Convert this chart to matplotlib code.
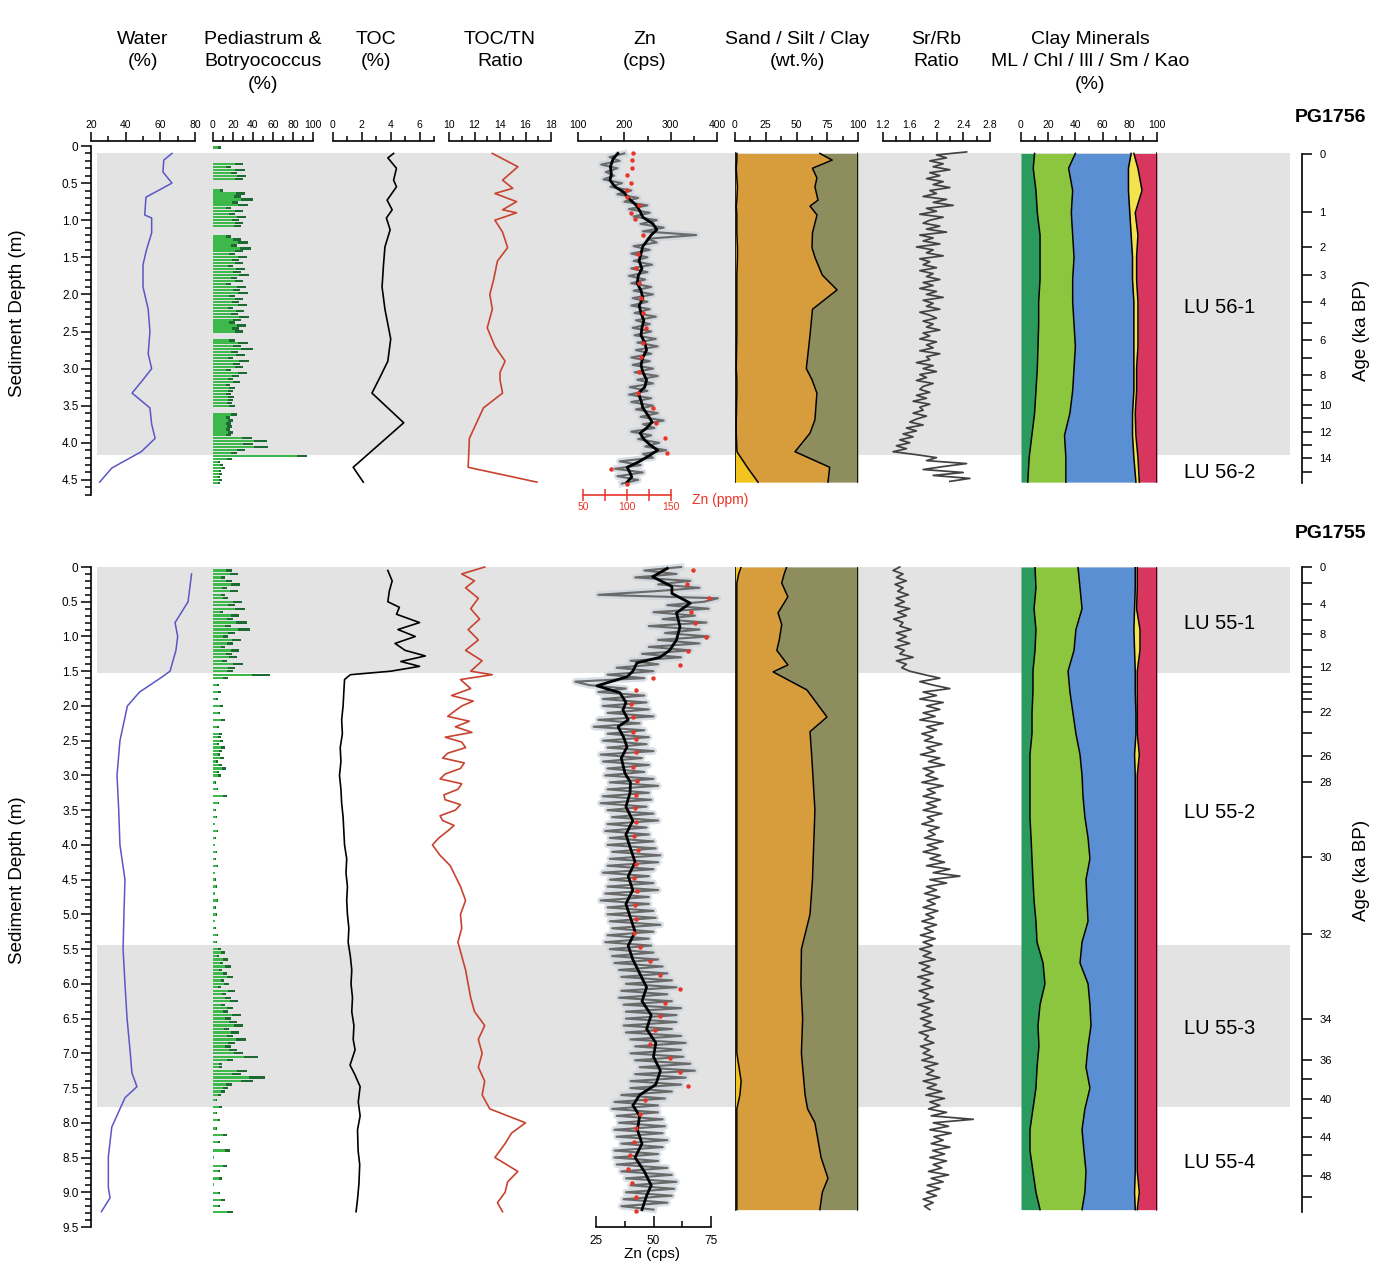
import numpy as np
import matplotlib.pyplot as plt

plt.rcParams['font.family'] = ['Liberation Sans', 'DejaVu Sans']

# ---------------- PG1756 (upper core) ----------------
water56_depth = [0.10, 0.19, 0.35, 0.50, 0.69, 0.93, 0.97, 1.17, 1.40, 1.60, 1.90, 2.20, 2.50, 2.80,
                 3.00, 3.15, 3.33, 3.53, 3.75, 3.94, 4.12, 4.34, 4.53]
water56 = [66.7, 62, 61.5, 66.7, 51.7, 51, 55, 55, 52, 50, 50, 53, 54, 53, 55, 50, 43.7, 54, 55, 57, 49, 32, 25]

ped56_depth = [0.02,
               0.24, 0.28, 0.32, 0.36, 0.40, 0.44,
               0.60, 0.64, 0.68, 0.72, 0.76, 0.80, 0.84, 0.88, 0.92, 0.96, 1.00, 1.04, 1.08,
               1.22, 1.26, 1.30, 1.34, 1.38, 1.42, 1.46, 1.50, 1.54, 1.58, 1.62, 1.66, 1.70, 1.74,
               1.78, 1.82, 1.86, 1.90, 1.94, 1.98, 2.02, 2.06, 2.10, 2.14, 2.18, 2.22, 2.26, 2.30,
               2.34, 2.38, 2.42, 2.46, 2.50,
               2.62, 2.66, 2.70, 2.74, 2.78, 2.82, 2.86, 2.90, 2.94, 2.98, 3.02, 3.06, 3.10, 3.14,
               3.18, 3.22, 3.26, 3.30, 3.34, 3.38, 3.42, 3.46, 3.50,
               3.62, 3.66, 3.70, 3.74, 3.78, 3.82, 3.86, 3.90, 3.94, 3.98, 4.02, 4.06, 4.10, 4.14,
               4.18, 4.22, 4.26, 4.30, 4.34, 4.38, 4.42, 4.46, 4.50, 4.54]
ped56 = [5,
         22, 13, 22, 18, 24, 22,
         7, 23, 21, 28, 19, 25, 13, 22, 16, 24, 19, 22, 21,
         13, 20, 25, 18, 27, 22, 16, 25, 19, 22, 15, 23, 20, 26, 18, 22, 13, 24, 20, 25,
         16, 22, 19, 25, 15, 23, 18, 26, 20, 16, 24, 19, 22,
         16, 25, 20, 28, 18, 23, 15, 26, 20, 22, 13, 25, 19, 15, 20, 13, 16, 15, 13, 15, 15, 14, 16,
         18, 13, 15, 13, 14, 13, 15, 13, 29, 41, 30, 41, 24, 18, 84, 14, 5, 7, 9, 6, 6, 5, 6, 5]
bot56 = [3,
         8, 5, 10, 6, 9, 8,
         3, 9, 7, 12, 6, 10, 5, 8, 6, 9, 7, 8, 7,
         5, 8, 10, 6, 11, 8, 6, 9, 7, 8, 5, 9, 8, 10, 6, 8, 5, 9, 7, 10,
         6, 8, 7, 9, 5, 8, 7, 10, 8, 6, 9, 7, 8,
         6, 10, 8, 12, 7, 9, 5, 10, 7, 8, 5, 9, 7, 5, 7, 4, 6, 5, 5, 6, 5, 5, 6,
         6, 4, 5, 5, 5, 4, 5, 5, 10, 13, 10, 14, 8, 6, 10, 5, 2, 3, 3, 2, 3, 2, 3, 2]

toc56_depth = [0.10, 0.16, 0.30, 0.46, 0.55, 0.73, 0.86, 0.97, 1.13, 1.36, 1.60, 1.90, 2.20, 2.60,
               2.90, 3.10, 3.33, 3.73, 4.33, 4.53]
toc56 = [4.2, 3.8, 4.4, 4.2, 4.4, 3.75, 4.1, 3.7, 3.96, 3.6, 3.5, 3.4, 3.6, 4.0, 3.8, 3.3, 2.7, 4.9, 1.4, 2.1]

tn56_depth = [0.10, 0.28, 0.46, 0.57, 0.64, 0.75, 0.86, 0.90, 1.00, 1.16, 1.37, 1.55, 1.80, 2.00,
              2.20, 2.45, 2.70, 2.90, 3.05, 3.15, 3.33, 3.53, 3.94, 4.33, 4.53]
tn56 = [13.4, 15.4, 14.2, 15.0, 13.6, 15.3, 14.2, 15.3, 13.6, 14.2, 14.6, 13.8, 13.5, 13.2,
        13.4, 13.0, 13.6, 14.4, 14.0, 14.0, 14.2, 12.7, 11.6, 11.5, 16.9]

# XRF scan Zn (cps) on a 5 cm grid from 0.10 m
zn56_raw = [200, 168, 190, 150, 185, 160, 178, 155, 195, 170,
            215, 185, 230, 200, 250, 210, 255, 220, 270, 235,
            285, 240, 355, 250, 270, 220, 255, 215, 250, 220,
            260, 215, 250, 210, 245, 215, 258, 220, 262, 218,
            250, 215, 255, 222, 268, 225, 255, 218, 258, 222,
            268, 228, 272, 225, 258, 215, 255, 218, 262, 222,
            272, 228, 262, 212, 250, 210, 258, 215, 262, 225,
            272, 235, 285, 240, 265, 215, 258, 230, 275, 245,
            290, 240, 262, 190, 235, 180, 240, 185, 230, 195]
zn56_smooth_depth = [0.10, 0.17, 0.28, 0.38, 0.46, 0.55, 0.62, 0.72, 0.80, 0.88, 0.96, 1.05, 1.13,
                     1.20, 1.27, 1.35, 1.45, 1.55, 1.65, 1.75, 1.85, 1.95, 2.05, 2.15, 2.25, 2.35,
                     2.45, 2.55, 2.65, 2.75, 2.85, 2.95, 3.05, 3.15, 3.25, 3.33, 3.43, 3.53, 3.62,
                     3.72, 3.80, 3.87, 3.95, 4.03, 4.10, 4.18, 4.26, 4.33, 4.40, 4.46, 4.53]
zn56_smooth = [186, 176, 170, 172, 169, 180, 198, 212, 226, 234, 240, 262, 270, 258, 250, 240, 236,
               232, 238, 230, 228, 236, 240, 232, 236, 242, 238, 236, 244, 248, 240, 236, 240, 248,
               244, 230, 236, 240, 250, 260, 248, 234, 242, 256, 272, 252, 230, 206, 212, 216, 206]
znppm56_depth = [0.10, 0.19, 0.30, 0.39, 0.50, 0.59, 0.69, 0.80, 0.90, 0.98, 1.20, 1.45, 1.65, 1.85,
                 2.05, 2.25, 2.45, 2.65, 2.85, 3.05, 3.33, 3.53, 3.73, 3.94, 4.14, 4.35, 4.55]
znppm56 = [107, 106, 106, 100, 104, 100, 100, 114, 104, 109, 118, 112, 110, 114, 116, 118, 122, 118,
           116, 114, 112, 130, 133, 143, 145, 82, 100]

ssc56_depth = [0.10, 0.19, 0.30, 0.43, 0.55, 0.73, 0.81, 0.93, 1.17, 1.37, 1.50, 1.74, 1.94, 2.07,
               2.20, 2.55, 3.00, 3.15, 3.33, 3.69, 3.87, 4.12, 4.33, 4.53]
sand56 = [1.5, 1.5, 1.0, 1.5, 2.0, 1.5, 1.0, 1.5, 1.5, 2.0, 2.0, 1.5, 1.5, 1.5, 1.5, 1.5, 1.0, 1.5,
          1.5, 1.0, 1.0, 1.6, 10, 18.7]
silt56 = [67.5, 77.5, 62, 65.1, 63, 66, 60, 65.2, 61.5, 60.6, 63, 69.5, 81.5, 71.5, 61.5, 59.5, 57,
          61.1, 65.1, 64, 60, 47.2, 67, 56.9]
clay56 = [31, 21, 37, 33.4, 35, 32.5, 39, 33.3, 37, 37.4, 35, 29, 17, 27, 37, 39, 42, 37.4, 33.4,
          35, 39, 51.2, 23, 24.4]

# XRF Sr/Rb on a 4 cm grid from 0.08 m
srrb56 = [2.45, 2.0, 2.15, 1.9, 2.1, 1.95, 2.2, 1.9, 2.05, 1.85,
          2.1, 1.95, 2.2, 1.9, 2.0, 1.8, 2.15, 1.95, 2.25, 1.85,
          2.0, 1.75, 2.1, 1.9, 1.8, 2.05, 1.85, 2.15, 1.75, 1.95,
          1.8, 2.05, 1.7, 1.95, 1.85, 2.1, 1.75, 1.9, 1.8, 2.0,
          1.75, 1.95, 1.85, 2.05, 1.8, 1.95, 1.75, 2.0, 1.85, 2.1,
          1.8, 1.95, 1.85, 2.05, 1.75, 1.9, 2.0, 1.8, 1.95, 1.85,
          2.05, 1.8, 1.9, 1.75, 2.0, 1.85, 1.95, 1.75, 2.05, 1.85,
          1.9, 1.7, 1.95, 1.8, 2.0, 1.75, 1.85, 1.7, 1.95, 1.8,
          1.75, 1.9, 1.7, 1.85, 1.65, 1.9, 1.75, 1.8, 1.65, 1.85,
          1.7, 1.6, 1.8, 1.55, 1.7, 1.5, 1.65, 1.45, 1.6, 1.4,
          1.55, 1.35, 1.7, 2.0, 1.85, 2.45, 2.1, 1.8, 2.4, 1.95, 2.5, 2.2]

cm56_depth = [0.10, 0.30, 0.60, 0.90, 1.20, 1.50, 1.80, 2.10, 2.40, 2.70, 3.00, 3.30, 3.60, 3.90, 4.20, 4.53]
ml56 = [10, 9, 11, 12, 14, 14, 14, 13, 13, 12.5, 12, 11, 10, 8, 6, 5]
chl56 = [30, 26, 27, 25, 24, 25, 24, 25, 26, 27.5, 27, 27, 26, 24, 27, 28]
ill56 = [41, 44, 41, 43, 43, 43, 44, 45, 44, 43, 44, 45, 46, 50, 50, 51.5]
sm56 = [2, 7, 10, 4, 5, 3, 3, 3, 3, 3, 2, 2, 2, 2.5, 3, 2.5]
kao56 = [17, 14, 11, 16, 14, 15, 15, 14, 14, 14, 15, 15, 16, 15.5, 14, 13]

age56 = [0, 1, 2, 3, 4, 5, 6, 7, 8, 9, 10, 11, 12, 13, 14, 15]
age56_depth = [0.108, 0.889, 1.361, 1.739, 2.102, 2.385, 2.615, 2.857, 3.086, 3.288, 3.491, 3.666,
               3.854, 4.030, 4.205, 4.394]
age56_labeled = [0, 1, 2, 3, 4, 6, 8, 10, 12, 14]

# ---------------- PG1755 (lower core) ----------------
water55_depth = [0.1, 0.5, 0.8, 1.0, 1.2, 1.5, 1.6, 1.8, 2.0, 2.5, 3.0, 3.5, 4.0, 4.5, 5.0, 5.5, 6.0,
                 6.5, 6.95, 7.28, 7.48, 7.64, 8.06, 8.49, 8.93, 9.08, 9.28]
water55 = [78, 76, 68.5, 70, 69, 65.6, 60, 48, 41, 36.7, 35, 36, 36.7, 39.6, 39, 38.5, 39.6, 40.8,
           42.5, 43.6, 46.5, 39.6, 32, 30, 30, 31, 26]

ped55_depth = [0.05, 0.10, 0.15, 0.20, 0.25, 0.30, 0.35, 0.40, 0.45, 0.50, 0.55, 0.60, 0.65, 0.70,
               0.75, 0.80, 0.85, 0.90, 0.95, 1.00, 1.05, 1.10, 1.15, 1.20, 1.25, 1.30, 1.35, 1.40,
               1.45, 1.50, 1.55, 1.60,
               1.70, 1.80, 1.90, 2.00, 2.10, 2.20, 2.30, 2.40,
               2.45, 2.50, 2.55, 2.60, 2.65, 2.70, 2.75, 2.80, 2.85, 2.90, 2.95, 3.00,
               3.10, 3.20, 3.30, 3.40, 3.50, 3.60, 3.70, 3.80, 3.90, 4.00, 4.10, 4.20, 4.30, 4.40,
               4.50, 4.60, 4.70, 4.80, 4.90, 5.00, 5.10, 5.20, 5.30, 5.40,
               5.50, 5.55, 5.60, 5.65, 5.70, 5.75, 5.80, 5.85, 5.90, 5.95, 6.00, 6.05, 6.10, 6.15,
               6.20, 6.25, 6.30, 6.35, 6.40, 6.45, 6.50, 6.55, 6.60, 6.65, 6.70, 6.75, 6.80, 6.85,
               6.90, 6.95, 7.00, 7.05, 7.10, 7.15, 7.20, 7.25, 7.30, 7.35, 7.40, 7.45, 7.50, 7.55, 7.60,
               7.67, 7.77, 7.86, 7.96, 8.08, 8.18, 8.28, 8.40, 8.50, 8.62, 8.69, 8.80, 8.89, 9.01,
               9.11, 9.20, 9.28]
ped55 = [13, 17, 8, 13, 18, 9, 17, 8, 10, 20, 15, 22, 7, 18, 14, 23, 12, 25, 15, 10, 19, 14, 8, 18,
         13, 16, 9, 20, 15, 14, 39, 10,
         4, 5, 3, 7, 5, 8, 4, 6,
         5, 7, 4, 8, 6, 5, 7, 3, 6, 9, 4, 5,
         2, 4, 10, 5, 2, 3, 1.5, 4, 2, 1.5, 3, 2, 4, 1.5, 2, 3, 1.5, 4, 2, 3, 1.5, 2, 4, 3,
         5, 8, 4, 10, 7, 12, 6, 10, 14, 8, 11, 5, 15, 9, 12, 17, 8, 14, 10, 19, 12, 16, 21, 11,
         18, 14, 23, 15, 12, 16, 21, 31, 14, 6, 6, 24, 19, 36, 28, 13, 10, 8, 5,
         3, 6, 3, 5, 3, 10, 5, 12, 0.5, 10, 5, 6, 0.5, 5, 8, 5, 14]
bot55 = [6, 8, 4, 6, 9, 5, 8, 4, 5, 9, 7, 10, 3, 8, 6, 11, 6, 12, 7, 5, 9, 6, 4, 8, 6, 8, 5, 10, 7,
         6, 18, 5,
         2, 3, 2, 3, 2, 4, 2, 3,
         3, 3, 2, 4, 3, 2, 4, 2, 3, 4, 2, 3,
         1, 1, 4, 1, 1, 1, 0.5, 1, 1, 0.5, 1, 1, 1, 0.5, 1, 1, 0.5, 1, 1, 1, 0.5, 1, 1, 1,
         3, 4, 2, 5, 3, 6, 3, 4, 6, 3, 5, 3, 7, 4, 6, 8, 4, 6, 5, 9, 6, 8, 9, 5,
         8, 6, 10, 7, 6, 8, 9, 14, 6, 3, 3, 10, 9, 16, 12, 6, 5, 4, 3,
         1, 3, 1, 2, 1, 4, 2, 5, 0.5, 4, 2, 3, 0.5, 2, 4, 2, 6]

toc55_depth = [0.05, 0.2, 0.35, 0.5, 0.58, 0.68, 0.8, 0.9, 1.0, 1.1, 1.2, 1.28, 1.36, 1.43, 1.5,
               1.55, 1.62, 1.8, 2.0, 2.2, 2.4, 2.6, 2.8, 3.0, 3.2, 3.4, 3.6, 3.8, 4.0, 4.2, 4.4,
               4.6, 4.8, 5.0, 5.2, 5.4, 5.6, 5.8, 6.0, 6.2, 6.4, 6.6, 6.8, 6.95, 7.17, 7.3, 7.48,
               7.7, 7.9, 8.1, 8.4, 8.6, 8.87, 9.1, 9.28]
toc55 = [3.8, 4.1, 3.9, 3.8, 4.6, 4.4, 6.0, 4.5, 5.7, 4.3, 5.0, 6.4, 4.7, 6.0, 4.0, 1.2, 0.8, 0.75,
         0.7, 0.6, 0.65, 0.5, 0.55, 0.45, 0.55, 0.6, 0.7, 0.75, 0.8, 0.95, 0.9, 1.0, 0.95, 1.0, 1.1,
         1.05, 1.2, 1.3, 1.25, 1.35, 1.3, 1.45, 1.4, 1.53, 1.18, 1.5, 1.88, 1.75, 1.88, 1.7, 1.74,
         1.85, 1.8, 1.7, 1.6]

tn55_depth = [0.0, 0.1, 0.2, 0.3, 0.45, 0.6, 0.75, 0.9, 1.05, 1.2, 1.35, 1.5, 1.55, 1.62, 1.75,
              1.85, 1.93, 2.0, 2.08, 2.15, 2.22, 2.3, 2.38, 2.45, 2.52, 2.6, 2.68, 2.75, 2.82, 2.9,
              2.98, 3.05, 3.12, 3.2, 3.28, 3.35, 3.42, 3.5, 3.58, 3.65, 3.72, 3.8, 3.9, 4.0,
              4.15, 4.3, 4.45, 4.6, 4.8, 5.0, 5.2, 5.4, 5.6, 5.8, 6.0, 6.2, 6.4, 6.6, 6.8, 7.0,
              7.2, 7.4, 7.6, 7.8, 8.0, 8.15, 8.3, 8.5, 8.7, 8.85, 9.0, 9.15, 9.28]
tn55 = [12.8, 11.0, 12.0, 11.3, 12.3, 11.7, 12.4, 11.5, 12.3, 11.3, 12.6, 11.7, 13.4, 10.9, 11.7,
        10.2, 11.9, 11.0, 10.4, 9.9, 11.6, 10.5, 11.8, 9.7, 11.0, 11.3, 9.9, 9.5, 11.2, 10.9,
        9.7, 9.3, 11.0, 10.7, 9.6, 9.7, 10.9, 10.5, 9.3, 9.5, 10.4, 9.9, 9.2, 8.7,
        9.3, 10.1, 10.5, 10.9, 11.3, 10.9, 11.0, 10.7, 11.0, 11.3, 11.5, 11.7, 12.0, 12.8, 12.3,
        12.6, 12.3, 12.8, 12.6, 13.2, 16.0, 14.9, 14.4, 13.6, 15.4, 14.6, 14.4, 13.8, 14.2]

# XRF scan Zn (cps) on a 5 cm grid from 0.00 m
zn55_raw = [62, 46, 60, 42, 66, 52, 70, 50, 26, 78,
            72, 56, 74, 50, 68, 54, 73, 48, 70, 55,
            74, 52, 70, 48, 66, 45, 62, 40, 52, 34,
            50, 30, 46, 16, 22, 38, 26, 46, 28, 47,
            28, 48, 30, 50, 26, 44, 24, 46, 30, 48,
            28, 47, 30, 50, 27, 45, 28, 48, 30, 46,
            29, 50, 31, 52, 30, 48, 28, 49, 27, 47,
            30, 50, 32, 52, 30, 47, 29, 48, 31, 50,
            30, 51, 32, 53, 31, 52, 30, 50, 28, 48,
            31, 50, 30, 52, 29, 48, 27, 48, 30, 50,
            30, 51, 31, 53, 32, 50, 30, 48, 29, 49,
            31, 50, 32, 52, 33, 54, 35, 56, 36, 58,
            38, 60, 36, 56, 35, 58, 37, 62, 38, 60,
            38, 60, 37, 58, 38, 62, 40, 64, 42, 62,
            40, 63, 42, 66, 44, 68, 42, 64, 40, 62,
            40, 58, 36, 55, 33, 52, 32, 52, 34, 54,
            35, 55, 33, 54, 34, 56, 36, 54, 33, 52,
            33, 52, 34, 56, 36, 58, 38, 60, 40, 59,
            38, 58, 37, 56, 36, 50]
zn55_smooth_depth = [0.02, 0.14, 0.28, 0.38, 0.52, 0.66, 0.86, 1.05, 1.20, 1.30, 1.38, 1.50, 1.58,
                     1.71, 1.81, 1.95, 2.06, 2.20, 2.30, 2.45, 2.59, 2.75, 2.97, 3.10, 3.25, 3.45,
                     3.65, 3.85, 4.05, 4.25, 4.45, 4.65, 4.85, 5.05, 5.25, 5.45, 5.65, 5.85, 6.05,
                     6.25, 6.45, 6.65, 6.85, 7.05, 7.25, 7.45, 7.60, 7.75, 7.90, 8.10, 8.30, 8.50,
                     8.70, 8.90, 9.05, 9.25]
zn55_smooth = [56, 49.6, 58, 58, 66, 60, 61.5, 60, 57, 52.8, 42.8, 41, 38.5, 25.4, 35.4, 38, 36.7,
               39, 34.6, 37, 38.5, 36, 37.6, 40, 39.8, 38, 41, 38, 40, 42, 39, 41, 38, 40, 42, 39,
               41, 44, 47, 45, 49, 47, 51, 50, 53, 51, 44, 41, 44, 43, 45, 42, 46, 49, 47, 45]
znppm55_depth = [0.04, 0.245, 0.446, 0.648, 0.806, 1.008, 1.21, 1.41, 1.6, 1.77, 1.97, 2.16, 2.375,
                 2.48, 2.66, 2.88, 3.08, 3.28, 3.47, 3.67, 3.87, 4.07, 4.27, 4.47, 4.67, 4.87,
                 5.07, 5.27, 5.47, 5.67, 5.87, 6.07, 6.27, 6.47, 6.67, 6.87, 7.07, 7.27, 7.47,
                 7.67, 7.87, 8.07, 8.27, 8.47, 8.67, 8.87, 9.07, 9.27]
znppm55 = [175, 168, 193, 173, 177, 190, 169, 160, 130, 110, 105, 107, 107, 110, 110, 107, 111, 110,
           109, 110, 108, 113, 110, 108, 111, 109, 110, 108, 115, 126, 138, 160, 143, 138, 132,
           126, 149, 160, 169, 121, 115, 110, 108, 103, 101, 106, 110, 110]

ssc55_depth = [0.0, 0.1, 0.23, 0.43, 0.66, 0.83, 1.05, 1.2, 1.41, 1.51, 1.77, 2.16, 2.37, 2.78,
               3.2, 3.5, 4.0, 4.5, 5.0, 5.5, 6.0, 6.5, 7.0, 7.4, 7.6, 7.8, 8.0, 8.5, 8.8, 9.0, 9.25]
sand55 = [5, 3, 1.5, 1.5, 1.5, 1.5, 1.5, 1.5, 1.5, 1.5, 1.5, 1.5, 1.5, 1.5, 1.5, 1.5, 1.5, 1.5,
          1.5, 1.5, 1.5, 1.5, 1.5, 5, 4, 1.5, 1.5, 1.5, 1.5, 1.5, 1.5]
silt55 = [37, 37, 36.5, 41.5, 33.5, 36.5, 34.5, 32.5, 41.5, 29.5, 57, 73.3, 59.5, 61.1, 62.5, 63.5,
          62.5, 61.5, 59.5, 52.5, 52.1, 53.5, 52.5, 51, 53, 57.5, 63.5, 68.5, 74.1, 69.5, 67.5]
clay55 = [58, 60, 62, 57, 65, 62, 64, 66, 57, 69, 41.5, 25.2, 39, 37.4, 36, 35, 36, 37, 39, 46,
          46.4, 45, 46, 44, 43, 41, 35, 30, 24.4, 29, 31]

# XRF Sr/Rb on a 5 cm grid from 0.00 m
srrb55 = [1.45, 1.35, 1.5, 1.4, 1.55, 1.38, 1.5, 1.42, 1.58, 1.4,
          1.52, 1.38, 1.6, 1.42, 1.55, 1.36, 1.5, 1.45, 1.62, 1.4,
          1.55, 1.42, 1.6, 1.38, 1.52, 1.45, 1.65, 1.4, 1.55, 1.48,
          1.6, 1.82, 2.05, 1.75, 1.95, 2.2, 1.8, 2.0, 1.75, 2.1,
          1.85, 2.05, 1.8, 1.98, 1.75, 2.1, 1.85, 2.0, 1.78, 1.95,
          1.82, 2.08, 1.85, 1.98, 1.76, 2.05, 1.88, 2.12, 1.8, 1.96,
          1.84, 2.02, 1.78, 2.1, 1.86, 1.98, 1.8, 2.06, 1.85, 2.0,
          1.8, 2.08, 1.86, 1.96, 1.78, 2.04, 1.88, 1.98, 1.82, 2.1,
          1.86, 2.02, 1.8, 2.06, 1.9, 2.12, 1.85, 2.2, 1.95, 2.35,
          1.9, 2.15, 1.85, 2.0, 1.82, 2.05, 1.86, 1.98, 1.8, 2.02,
          1.84, 1.96, 1.78, 2.0, 1.82, 1.95, 1.76, 1.98, 1.8, 1.94,
          1.75, 1.92, 1.8, 1.98, 1.74, 1.9, 1.78, 1.95, 1.72, 1.9,
          1.78, 1.95, 1.74, 1.88, 1.8, 1.96, 1.72, 1.9, 1.78, 1.94,
          1.76, 1.92, 1.8, 1.98, 1.74, 1.88, 1.82, 1.96, 1.76, 1.9,
          1.8, 1.95, 1.78, 2.02, 1.82, 1.96, 1.85, 2.05, 1.8, 2.0,
          1.86, 2.08, 1.84, 2.12, 1.9, 2.05, 1.88, 2.15, 1.92, 2.55,
          1.95, 2.18, 1.9, 2.22, 1.96, 2.1, 1.92, 2.2, 1.94, 2.12,
          1.9, 2.15, 1.95, 2.08, 1.88, 2.18, 1.92, 2.1, 1.86, 2.05,
          1.85, 2.0, 1.8, 1.95, 1.82, 1.9]

cm55_depth = [0.0, 0.3, 0.6, 0.9, 1.2, 1.5, 1.8, 2.1, 2.4, 2.7, 3.0, 3.3, 3.6, 3.9, 4.2, 4.5, 4.8,
              5.1, 5.4, 5.7, 6.0, 6.3, 6.6, 6.9, 7.2, 7.5, 7.8, 8.1, 8.4, 8.7, 9.0, 9.25]
ml55 = [10.3, 11, 9.6, 11, 10.3, 8.8, 8.8, 8.1, 8.1, 6.6, 6.6, 6.6, 6.6, 7.4, 8.1, 8.8, 9.6, 11,
        11.8, 16.2, 17.6, 14, 12.5, 13.2, 11.8, 11, 8.8, 6.6, 6.6, 8.8, 11, 14]
chl55 = [31.6, 32.4, 35.3, 29.4, 28.7, 25.8, 27.2, 30.1, 32.3, 36.8, 38.3, 39, 40.4, 41.9, 42.6,
         39, 38.9, 38.3, 33.1, 27.2, 31.7, 36.7, 39, 36.1, 36, 39.7, 38.2, 38.3, 39.7, 39, 36, 30.9]
ill55 = [42.1, 40.6, 38.6, 42.6, 44.5, 49.4, 48, 46.3, 44.1, 40.1, 39.1, 38.4, 37, 34.7, 33.3,
         36.2, 35.5, 34.7, 39.1, 40.6, 34.7, 33.3, 32.5, 34.7, 36.2, 33.3, 37, 39.1, 37.7, 36.2,
         36.5, 39.1]
sm55 = [1.5, 1.5, 1.5, 4.5, 4, 1.5, 1.5, 1, 1, 3.5, 1.5, 1.5, 1.5, 1.5, 1.5, 1.5, 1.5, 1.5, 1.5,
        1.5, 1.5, 1.5, 1.5, 1.5, 1.5, 1.5, 1.5, 1.5, 1.5, 1.5, 3.5, 1.5]
kao55 = [14.5, 14.5, 15, 12.5, 12.5, 14.5, 14.5, 14.5, 14.5, 13, 14.5, 14.5, 14.5, 14.5, 14.5,
         14.5, 14.5, 14.5, 14.5, 14.5, 14.5, 14.5, 14.5, 14.5, 14.5, 14.5, 14.5, 14.5, 14.5, 14.5,
         13, 14.5]

age55 = [0, 2, 4, 6, 8, 10, 12, 14, 16, 18, 20, 22, 24, 26, 28, 30, 32, 34, 36, 38, 40, 42, 44, 46, 48, 50]
age55_depth = [0.0, 0.23, 0.533, 0.763, 0.964, 1.195, 1.44, 1.583, 1.684, 1.80, 1.90, 2.087, 2.39,
               2.72, 3.095, 4.175, 5.283, 6.506, 7.097, 7.37, 7.658, 7.93, 8.205, 8.464, 8.77, 9.07]
age55_labeled = [0, 4, 8, 12, 22, 26, 28, 30, 32, 34, 36, 40, 44, 48]

units56 = [('LU 56-1', 0.10, 4.17), ('LU 56-2', 4.17, 4.55)]
units55 = [('LU 55-1', 0.0, 1.53), ('LU 55-2', 1.53, 5.44), ('LU 55-3', 5.44, 7.77), ('LU 55-4', 7.77, 9.28)]
shaded56 = [(0.10, 4.17)]
shaded55 = [(0.0, 1.53), (5.44, 7.77)]

headers = [('Water\n(%)', 143), ('Pediastrum &\nBotryococcus\n(%)', 263), ('TOC\n(%)', 376),
           ('TOC/TN\nRatio', 500), ('Zn\n(cps)', 645), ('Sand / Silt / Clay\n(wt.%)', 797),
           ('Sr/Rb\nRatio', 936), ('Clay Minerals\nML / Chl / Ill / Sm / Kao\n(%)', 1090)]

# colours
SHADE = '#e3e3e3'
C_WATER = '#5a56c6'
C_PED, C_BOT = '#3cb94a', '#1e6a33'
C_TN = '#c8432f'
C_RED = '#e8352a'
C_SSC = ['#f2c41d', '#d79c3b', '#8e8d5d']
C_CM = ['#2b9a5d', '#8cc63f', '#5b8fd3', '#f5e24f', '#d8365f']

W, H = 1395, 1264
fig = plt.figure(figsize=(13.95, 12.64), dpi=100)


def box(x0, x1, y0, y1):
    return [x0 / W, 1 - y1 / H, (x1 - x0) / W, (y1 - y0) / H]


def put(x, y, s, **kw):
    fig.text(x / W, 1 - y / H, s, **kw)


TOP = dict(y0=141, y1=495, ylim=(4.7035, -0.0674))
BOT = dict(y0=567, y1=1227, ylim=(9.5, 0.0))


def shade(p, spans):
    ax = fig.add_axes(box(97, 1290, p['y0'], p['y1']), zorder=0)
    ax.set_xlim(0, 1)
    ax.set_ylim(p['ylim'])
    ax.axis('off')
    for a, b in spans:
        ax.axhspan(a, b, color=SHADE, lw=0)


def track(p, x0, x1, xlim):
    ax = fig.add_axes(box(x0, x1, p['y0'], p['y1']), zorder=1)
    ax.set_facecolor('none')
    ax.set_xlim(xlim)
    ax.set_ylim(p['ylim'])
    for s in ax.spines.values():
        s.set_visible(False)
    ax.tick_params(which='both', bottom=False, top=False, left=False, right=False,
                   labelbottom=False, labeltop=False, labelleft=False, labelright=False)
    return ax


def top_scale(ax, lo, hi, major, minor, labels):
    sp = ax.spines['top']
    sp.set_visible(True)
    sp.set_bounds(lo, hi)
    sp.set_linewidth(1.2)
    ax.set_xticks(major)
    ax.set_xticklabels(labels)
    ax.set_xticks(minor, minor=True)
    ax.tick_params(axis='x', which='both', top=True, labeltop=True, bottom=False,
                   labelbottom=False, direction='out', width=1.1)
    ax.tick_params(axis='x', which='major', length=6.5, labelsize=7.5, pad=1.5)
    ax.tick_params(axis='x', which='minor', length=3.5)


def depth_axis(ax, bottom, major, minor):
    sp = ax.spines['left']
    sp.set_visible(True)
    sp.set_bounds(0, bottom)
    sp.set_linewidth(1.2)
    ax.set_yticks(major)
    ax.set_yticklabels(['0'] + ['%.1f' % v for v in major[1:]])
    ax.set_yticks(minor, minor=True)
    ax.tick_params(axis='y', which='both', left=True, labelleft=True, direction='out', width=1.1)
    ax.tick_params(axis='y', which='major', length=7, labelsize=8.5, pad=2)
    ax.tick_params(axis='y', which='minor', length=4)


def age_axis(p, ages, depths, labeled, lo, hi):
    ax = fig.add_axes(box(1280, 1302, p['y0'], p['y1']), zorder=1)
    ax.set_facecolor('none')
    ax.set_ylim(p['ylim'])
    ax.set_xticks([])
    for k, s in ax.spines.items():
        s.set_visible(k == 'right')
    ax.spines['right'].set_bounds(lo, hi)
    ax.spines['right'].set_linewidth(1.2)
    ax.yaxis.tick_right()
    ax.set_yticks([d for a, d in zip(ages, depths) if a in labeled])
    ax.set_yticklabels([str(a) for a in ages if a in labeled])
    ax.set_yticks([d for a, d in zip(ages, depths) if a not in labeled], minor=True)
    ax.tick_params(axis='y', which='both', direction='out', width=1.1, length=7.5,
                   right=True, left=False, labelright=True, labelleft=False)
    ax.tick_params(axis='y', which='major', labelsize=8, pad=5)


def stacked(ax, depth, parts, colors, edges):
    left = np.zeros(len(depth))
    for vals, c in zip(parts, colors):
        right = left + np.asarray(vals, dtype=float)
        ax.fill_betweenx(depth, left, right, color=c, lw=0)
        left = right
    cum = np.cumsum(np.asarray(parts, dtype=float), axis=0)
    for k in range(len(parts) - 1):
        ax.plot(cum[k], depth, color='k', lw=1.1)
    for e in edges:
        ax.plot([e, e], [depth[0], depth[-1]], color='k', lw=1.2)


def core(p, d):
    shade(p, d['shaded'])
    y0, y1 = p['y0'], p['y1']

    ax = track(p, 91, 195, (20, 80))
    ax.plot(d['water'], d['water_depth'], color=C_WATER, lw=1.1, clip_on=False)
    depth_axis(ax, d['depth_bottom'], d['depth_major'], d['depth_minor'])
    if d['top']:
        top_scale(ax, 20, 80, [20, 40, 60, 80], [30, 50, 70], ['20', '40', '60', '80'])

    ax = track(p, 213, 313, (0, 100))
    ax.barh(d['ped_depth'], d['ped'], height=d['bar_h'], color=C_PED, lw=0)
    ax.barh(d['ped_depth'], d['bot'], left=d['ped'], height=d['bar_h'], color=C_BOT, lw=0)
    if d['top']:
        top_scale(ax, 0, 100, [0, 20, 40, 60, 80, 100], [10, 30, 50, 70, 90],
                  ['0', '20', '40', '60', '80', '100'])

    ax = track(p, 333, 434, (0, 7))
    ax.plot(d['toc'], d['toc_depth'], color='k', lw=1.2, clip_on=False)
    if d['top']:
        top_scale(ax, 0, 7, [0, 2, 4, 6], [1, 3, 5, 7], ['0', '2', '4', '6'])

    ax = track(p, 449, 551, (10, 18))
    ax.plot(d['tn'], d['tn_depth'], color=C_TN, lw=1.2, clip_on=False)
    if d['top']:
        top_scale(ax, 10, 18, [10, 12, 14, 16, 18], [11, 13, 15, 17], ['10', '12', '14', '16', '18'])

    ax = track(p, d['zn_x'][0], d['zn_x'][1], d['zn_xlim'])
    ax.plot(d['zn_raw'], d['zn_raw_depth'], color='#cdd5dc', lw=5.0, alpha=0.75,
            solid_joinstyle='round', clip_on=False)
    ax.plot(d['zn_raw'], d['zn_raw_depth'], color='#6a6a6a', lw=1.5, clip_on=False)
    ax.plot(d['zn_smooth'], d['zn_smooth_depth'], color='k', lw=2.0, clip_on=False)
    ax2 = ax.twiny()
    ax2.set_facecolor('none')
    ax2.set_xlim(d['ppm_xlim'])
    for s in ax2.spines.values():
        s.set_visible(False)
    ax2.tick_params(which='both', bottom=False, top=False, labelbottom=False, labeltop=False)
    ax2.plot(d['ppm'], d['ppm_depth'], 'o', color=C_RED, ms=3.2, mec='none', clip_on=False)
    if d['top']:
        top_scale(ax, 100, 400, [100, 200, 300, 400], [150, 250, 350], ['100', '200', '300', '400'])
        sp = ax2.spines['bottom']
        sp.set_visible(True)
        sp.set_bounds(50, 150)
        sp.set_color(C_RED)
        sp.set_linewidth(1.2)
        ax2.xaxis.set_ticks_position('bottom')
        ax2.set_xticks([50, 100, 150])
        ax2.set_xticklabels(['50', '100', '150'])
        ax2.set_xticks([75, 125], minor=True)
        ax2.tick_params(axis='x', which='both', bottom=True, labelbottom=True, direction='inout',
                        length=8, width=1.1, color=C_RED, labelcolor=C_RED, labelsize=7.5, pad=1)
        put(692, 500, 'Zn (ppm)', color=C_RED, fontsize=10, ha='left', va='center')
    else:
        sp = ax.spines['bottom']
        sp.set_visible(True)
        sp.set_bounds(25, 75)
        sp.set_linewidth(1.2)
        ax.set_xticks([25, 50, 75])
        ax.set_xticklabels(['25', '50', '75'])
        ax.set_xticks([37.5, 62.5], minor=True)
        ax.tick_params(axis='x', which='both', bottom=True, labelbottom=True, direction='in', width=1.1)
        ax.tick_params(axis='x', which='major', length=8, labelsize=8.5, pad=6)
        ax.tick_params(axis='x', which='minor', length=4.5)
        ax.set_xlabel('Zn (cps)', fontsize=11, labelpad=0)

    ax = track(p, 735, 858, (0, 100))
    stacked(ax, d['ssc_depth'], [d['sand'], d['silt'], d['clay']], C_SSC, [0, 100])
    if d['top']:
        top_scale(ax, 0, 100, [0, 25, 50, 75, 100], [12.5, 37.5, 62.5, 87.5],
                  ['0', '25', '50', '75', '100'])

    ax = track(p, 883, 990, (1.2, 2.8))
    ax.plot(d['srrb'], d['srrb_depth'], color='#424242', lw=1.25, clip_on=False)
    if d['top']:
        top_scale(ax, 1.2, 2.8, [1.2, 1.6, 2.0, 2.4, 2.8], [1.4, 1.8, 2.2, 2.6],
                  ['1.2', '1.6', '2', '2.4', '2.8'])

    ax = track(p, 1021, 1157, (0, 100))
    stacked(ax, d['cm_depth'], d['cm'], C_CM, [100])
    if d['top']:
        top_scale(ax, 0, 100, [0, 20, 40, 60, 80, 100], [10, 30, 50, 70, 90],
                  ['0', '20', '40', '60', '80', '100'])

    age_axis(p, d['age'], d['age_depth'], d['age_labeled'], d['age_spine'][0], d['age_spine'][1])

    for name, a, b in d['units']:
        yc = (a + b) / 2
        frac = (yc - p['ylim'][1]) / (p['ylim'][0] - p['ylim'][1])
        put(1220, y0 + frac * (y1 - y0) + 3, name, fontsize=14.5, ha='center', va='center')


core(TOP, dict(
    top=True, shaded=shaded56, depth_bottom=4.7,
    depth_major=[0, 0.5, 1.0, 1.5, 2.0, 2.5, 3.0, 3.5, 4.0, 4.5],
    depth_minor=np.arange(0, 4.71, 0.1),
    water=water56, water_depth=water56_depth,
    ped=ped56, bot=bot56, ped_depth=ped56_depth, bar_h=0.03,
    toc=toc56, toc_depth=toc56_depth, tn=tn56, tn_depth=tn56_depth,
    zn_x=(578, 717), zn_xlim=(100, 400), ppm_xlim=(44.32, 202.27),
    zn_raw=zn56_raw, zn_raw_depth=np.round(0.10 + 0.05 * np.arange(len(zn56_raw)), 2),
    zn_smooth=zn56_smooth, zn_smooth_depth=zn56_smooth_depth,
    ppm=znppm56, ppm_depth=znppm56_depth,
    ssc_depth=ssc56_depth, sand=sand56, silt=silt56, clay=clay56,
    srrb=srrb56, srrb_depth=np.round(0.08 + 0.04 * np.arange(len(srrb56)), 2),
    cm_depth=cm56_depth, cm=[ml56, chl56, ill56, sm56, kao56],
    age=age56, age_depth=age56_depth, age_labeled=age56_labeled, age_spine=(0.108, 4.54),
    units=units56,
))

core(BOT, dict(
    top=False, shaded=shaded55, depth_bottom=9.5,
    depth_major=[0, 0.5, 1.0, 1.5, 2.0, 2.5, 3.0, 3.5, 4.0, 4.5, 5.0, 5.5, 6.0, 6.5, 7.0, 7.5,
                 8.0, 8.5, 9.0, 9.5],
    depth_minor=np.arange(0, 9.51, 0.1),
    water=water55, water_depth=water55_depth,
    ped=ped55, bot=bot55, ped_depth=ped55_depth, bar_h=0.034,
    toc=toc55, toc_depth=toc55_depth, tn=tn55, tn_depth=tn55_depth,
    zn_x=(560, 745), zn_xlim=(9.35, 89.78), ppm_xlim=(23.86, 234.09),
    zn_raw=zn55_raw, zn_raw_depth=np.round(0.05 * np.arange(len(zn55_raw)), 2),
    zn_smooth=zn55_smooth, zn_smooth_depth=zn55_smooth_depth,
    ppm=znppm55, ppm_depth=znppm55_depth,
    ssc_depth=ssc55_depth, sand=sand55, silt=silt55, clay=clay55,
    srrb=srrb55, srrb_depth=np.round(0.05 * np.arange(len(srrb55)), 2),
    cm_depth=cm55_depth, cm=[ml55, chl55, ill55, sm55, kao55],
    age=age55, age_depth=age55_depth, age_labeled=age55_labeled, age_spine=(0.0, 9.28),
    units=units55,
))

for text, x in headers:
    put(x, 31, text, fontsize=14, ha='center', va='top', linespacing=1.42)

put(1330, 117, 'PG1756', fontsize=14, fontweight='bold', ha='center', va='center')
put(1330, 533, 'PG1755', fontsize=14, fontweight='bold', ha='center', va='center')
put(18, 313, 'Sediment Depth (m)', fontsize=13.5, rotation=90, ha='center', va='center')
put(18, 880, 'Sediment Depth (m)', fontsize=13.5, rotation=90, ha='center', va='center')
put(1362, 330, 'Age (ka BP)', fontsize=13.5, rotation=90, ha='center', va='center')
put(1362, 870, 'Age (ka BP)', fontsize=13.5, rotation=90, ha='center', va='center')

fig.savefig('out.png', dpi=100)
